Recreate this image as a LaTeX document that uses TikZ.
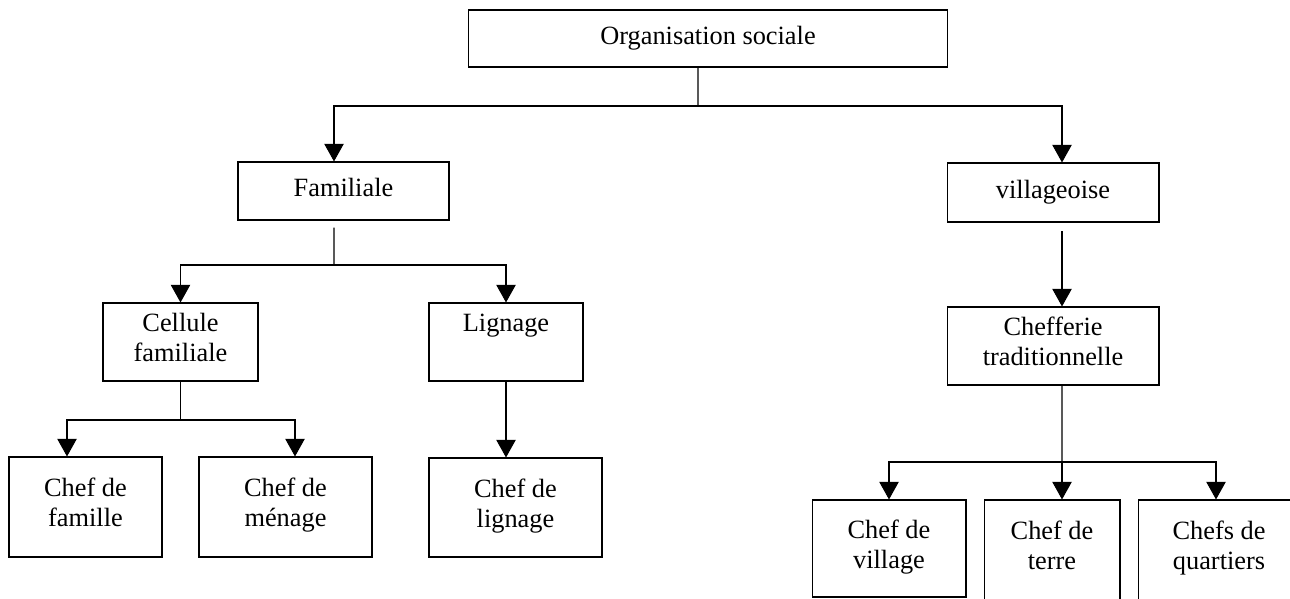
\documentclass[tikz,border=0pt]{standalone}
\usepackage{fontspec}
\setmainfont{Liberation Serif}
\usetikzlibrary{shapes, arrows, positioning, arrows.meta}

\begin{document}
\begin{tikzpicture}[
      x=0.02cm, y=-0.02cm,
      boite/.style = {shape=rectangle, draw, line width=0.6pt,
        align=center, inner sep=0pt,
        font=\fontsize{15}{17}\selectfont,
        execute at begin node=\strut, execute at end node=\strut
      },
      trait/.style = {line width=0.6pt},
      fleche/.style = {trait, -{Triangle[width=11pt,length=10pt]}}
    ]
    \useasboundingbox (0,0) rectangle (1290,598);
    \clip (0,0) rectangle (1290,598);

    % niveaux
    \node[boite, minimum width=9.6cm, minimum height=1.14cm] (org) at (708,38.5) {Organisation sociale};
    \node[boite, minimum width=4.22cm, minimum height=1.16cm] (fam) at (343.5,191) {Familiale};
    \node[boite, minimum width=4.24cm, minimum height=1.18cm] (vil) at (1053,192.5) {villageoise};
    \node[boite, minimum width=3.1cm, minimum height=1.56cm] (cel) at (180.5,342) {Cellule\\familiale};
    \node[boite, minimum width=3.08cm, minimum height=1.56cm] (lig) at (506,342) {Lignage\\~};
    \node[boite, minimum width=4.24cm, minimum height=1.56cm] (chf) at (1053,346) {Chefferie\\traditionnelle};
    \node[boite, minimum width=3.06cm, minimum height=2cm] (cfam) at (85.5,507) {Chef de\\famille};
    \node[boite, minimum width=3.46cm, minimum height=2cm] (cmen) at (285.5,507) {Chef de\\ménage};
    \node[boite, minimum width=3.46cm, minimum height=1.98cm] (clig) at (515.5,507.5) {Chef de\\lignage};
    \node[boite, minimum width=3.08cm, minimum height=1.94cm] (cvil) at (889,548.5) {Chef de\\village};
    \node[boite, minimum width=2.72cm, minimum height=2cm] (cter) at (1052,550) {Chef de\\terre};
    \node[boite, minimum width=3.24cm, minimum height=2cm] (cqua) at (1219,550) {Chefs de\\quartiers};

    % liaisons
    \coordinate (j0) at (698,106);
    \coordinate (j1) at (334,265);
    \coordinate (j2) at (180.5,420);
    \coordinate (j3) at (1062,462);

    \draw[trait] ([xshift=-0.2cm]org.south) -- (j0);
    \draw[fleche] (j0) -| ([xshift=-0.19cm]fam.north);
    \draw[fleche] (j0) -| ([xshift=0.18cm]vil.north);

    \draw[trait, shorten <=4pt] ([xshift=-0.19cm]fam.south) -- (j1);
    \draw[fleche] (j1) -| (cel.north);
    \draw[fleche] (j1) -| (lig.north);

    \draw[trait] (cel.south) -- (j2);
    \draw[fleche] (j2) -| ([xshift=-0.37cm]cfam.north);
    \draw[fleche] (j2) -| ([xshift=0.19cm]cmen.north);

    \draw[fleche] (lig.south) -- (lig.south |- clig.north);

    \draw[fleche, shorten <=5pt] ([xshift=0.18cm]vil.south) -- ([xshift=0.18cm]chf.north);

    \draw[trait] ([xshift=0.18cm]chf.south) -- (j3);
    \draw[fleche] (j3) -| (cvil.north);
    \draw[fleche] (j3) -- (j3 |- cter.north);
    \draw[fleche] (j3) -| ([xshift=-0.06cm]cqua.north);
\end{tikzpicture}
\end{document}
